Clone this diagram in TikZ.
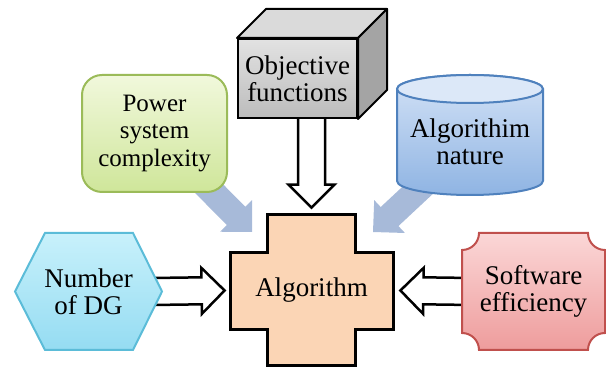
\documentclass[tikz,border=0pt]{standalone}
\usepackage{fontspec}
\setmainfont{Liberation Serif}
\usetikzlibrary{calc}
\pgfdeclarelayer{bg}
\pgfsetlayers{bg,main}

\definecolor{cubetop}{HTML}{E2E2E2}
\definecolor{cubebot}{HTML}{BCBCBC}
\definecolor{cubelid}{HTML}{DADADA}
\definecolor{cubeside}{HTML}{A4A4A4}
\definecolor{pwrtop}{HTML}{F1F8DC}
\definecolor{pwrbot}{HTML}{CFE69A}
\definecolor{pwrline}{HTML}{9BBB59}
\definecolor{cyltop}{HTML}{D3E2F6}
\definecolor{cylbot}{HTML}{8FB4E3}
\definecolor{cyllid}{HTML}{DCE8F8}
\definecolor{cylline}{HTML}{4F81BD}
\definecolor{hextop}{HTML}{C8F1FB}
\definecolor{hexbot}{HTML}{95DCF2}
\definecolor{hexline}{HTML}{5BBCD8}
\definecolor{swtop}{HTML}{FBD7D7}
\definecolor{swbot}{HTML}{EE9C9C}
\definecolor{swline}{HTML}{C0504D}
\definecolor{algfill}{HTML}{FBD5B5}
\definecolor{softblue}{RGB}{167,186,217}

\tikzset{
  blockarrow/.style n args={3}{to path={
    let \p1=(\tikztostart), \p2=(\tikztotarget),
        \n1={atan2(\y2-\y1,\x2-\x1)},
        \n2={veclen(\x2-\x1,\y2-\y1)-#3} in
    ($(\p1)+(\n1+90:#1)$) -- ($(\p1)+(\n1:\n2)+(\n1+90:#1)$)
    -- ($(\p1)+(\n1:\n2)+(\n1+90:#2)$) -- (\p2)
    -- ($(\p1)+(\n1:\n2)+(\n1-90:#2)$) -- ($(\p1)+(\n1:\n2)+(\n1-90:#1)$)
    -- ($(\p1)+(\n1-90:#1)$)}},
}

\begin{document}
\begin{tikzpicture}[x=0.5pt,y=0.5pt,
  lbl/.style={align=center,inner sep=0pt,font=\fontsize{13.5}{13.5}\selectfont},
  hollow/.style={draw=black,fill=white,line width=1.25pt,line join=miter,
    blockarrow={6.75pt}{11.5pt}{11.5pt}},
  soft/.style={fill=softblue,blockarrow={6.5pt}{11.25pt}{11.3pt}}]
\useasboundingbox (0,0) rectangle (606,369);

\node[lbl,draw,line width=1pt,top color=cubetop,bottom color=cubebot,
  minimum width=59.5pt,minimum height=39.5pt] (obj) at (297.5,290.5) {Objective\\functions};
\draw[line width=1pt,fill=cubelid,line join=round] (obj.north west) -- ++(14.5pt,14.5pt)
  -- ([shift={(14.5pt,14.5pt)}]obj.north east) -- (obj.north east) -- cycle;
\draw[line width=1pt,fill=cubeside,line join=round] (obj.north east) -- ++(14.5pt,14.5pt)
  -- ([shift={(14.5pt,14.5pt)}]obj.south east) -- (obj.south east) -- cycle;

\node[lbl,font=\fontsize{12.5}{13.75}\selectfont,draw=pwrline,line width=1pt,rounded corners=10pt,
  top color=pwrtop,bottom color=pwrbot,minimum width=72.5pt,minimum height=58.5pt]
  (pwr) at (154.5,235.5) {Power\\system\\complexity};

\draw[cylline,line width=1pt,top color=cyltop,bottom color=cylbot] (397,280) -- (397,188)
  arc[start angle=180,end angle=360,x radius=36.5pt,y radius=7pt] -- (543,280)
  arc[start angle=0,end angle=180,x radius=36.5pt,y radius=7pt] -- cycle;
\draw[cylline,line width=1pt,fill=cyllid] (470,280) ellipse[x radius=36.5pt,y radius=7pt];
\node[lbl,minimum width=73pt,minimum height=45pt] (nat) at (470,227.5) {Algorithim\\nature};

\draw[hexline,line width=1pt,top color=hextop,bottom color=hexbot]
  (15,77.5) -- (45,136) -- (133,136) -- (162,77.5) -- (133,19) -- (45,19) -- cycle;
\node[lbl,minimum width=73.5pt,minimum height=58.5pt] (dg) at (88.5,77.5) {Number\\of DG};

\draw[line width=1.5pt,fill=algfill] (267.5,154) -- (355.5,154) -- (355.5,116) -- (393,116)
  -- (393,39) -- (355.5,39) -- (355.5,3) -- (267.5,3) -- (267.5,39) -- (230,39)
  -- (230,116) -- (267.5,116) -- cycle;
\node[lbl,minimum width=81.5pt,minimum height=75.5pt] (alg) at (311.5,78.5) {Algorithm};

\draw[swline,line width=1pt,top color=swtop,bottom color=swbot] (479,136) -- (588,136)
  arc[start angle=180,end angle=270,radius=8.5pt] -- (605,36)
  arc[start angle=90,end angle=180,radius=8.5pt] -- (479,19)
  arc[start angle=0,end angle=90,radius=8.5pt] -- (462,119)
  arc[start angle=270,end angle=360,radius=8.5pt] -- cycle;
\node[lbl,minimum width=71.5pt,minimum height=58.5pt] (sw) at (533.5,77.5) {Software\\efficiency};

\coordinate (tipL) at (252,137);
\coordinate (tipR) at (373,137);

\begin{pgfonlayer}{bg}
  \path[soft] (pwr.center) to (tipL);
  \path[soft] (nat.center) to (tipR);
  \draw[hollow] (obj.south -| alg.north) to ([yshift=3.5pt]alg.north);
  \draw[hollow] ([xshift=-5pt]dg.east) to ([xshift=-2.5pt]alg.west);
  \draw[hollow] ([xshift=5pt]sw.west) to ([xshift=3.5pt]alg.east);
\end{pgfonlayer}
\end{tikzpicture}
\end{document}
